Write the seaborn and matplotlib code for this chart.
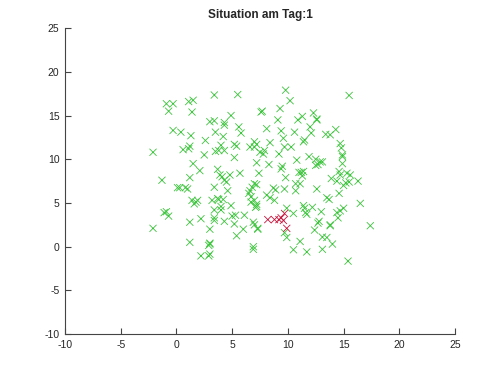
import matplotlib
matplotlib.use("Agg")
import matplotlib.pyplot as plt
import pandas as pd
import seaborn as sns

# healthy (green) individuals
green_x = [
    -0.9, -0.3, -0.7, 1.1, 1.5, 1.4, 3.4, 5.5, 9.8, 10.2, 15.5, 7.6, 7.7, 9.3, 9.1,
    11.3, 10.9, 12.3, 12.6, 12.6, 3.0, 3.4, 4.3, 4.3, 4.9, 5.6, 5.8, -0.3, 0.4, 1.3,
    2.6, 3.5, 4.2, 8.1, 9.4, 9.6, 10.6, 12.0, 12.1, 13.4, 13.8, 14.3, -2.1, 0.6, 1.1,
    1.2, 1.5, 2.1, 1.2, 2.5, 3.5, 4.0, 3.8, 4.3, 5.2, 5.4, 6.6, 7.0, 7.2, 7.0,
    7.5, 7.8, 7.9, 8.4, 9.2, 9.7, 10.3, 11.4, 11.5, 10.8, 11.9, 12.5, 12.9, 12.5, 12.7,
    13.1, 14.7, 14.8, 14.9, 14.9, 14.9, 5.2, 7.2, 8.3, 9.4, 9.5, 9.8, 5.7, 7.4, 3.7,
    3.9, 4.1, 4.3, 4.5, 4.8, -1.3, 0.1, 0.3, 0.8, 1.0, 3.4, 4.6, 7.0, 7.2, 6.8,
    6.6, 6.5, 6.7, 6.7, 7.0, 7.2, 7.2, 7.1, 8.1, 8.4, 8.7, 8.9, 8.8, 9.7, 10.7,
    10.7, 11.1, 11.0, 11.2, 11.4, 11.3, 12.6, 13.9, 14.4, 14.6, 14.7, 14.6, 15.2, 15.3, 15.5,
    15.6, 15.0, 16.3, 16.5, 17.4, 15.4, 13.5, 13.7, 15.0, 14.4, 14.7, 14.5, 13.0, 12.2, 11.4,
    11.5, 11.6, 11.7, 10.5, 9.9, 12.8, 12.7, 13.8, 13.8, 12.4, 13.1, 13.5, 14.0, 11.1, 10.5,
    11.7, 13.1, 9.9, 9.7, 7.3, 7.3, 6.9, 7.0, 6.9, 6.9, 6.0, 6.1, 5.4, 5.2, 5.0,
    5.3, 4.9, 4.0, 4.0, 4.2, 3.7, 3.8, 3.2, 3.4, 3.4, 3.4, 4.3, 3.0, 3.0, 2.9,
    3.0, 2.2, 2.9, 3.0, 1.2, 1.2, 2.2, 1.4, 1.75, 1.9, 1.6, -1.1, -0.9, -0.7, -2.1,
]
green_y = [
    16.35, 16.35, 15.5, 16.6, 16.75, 15.4, 17.35, 17.4, 17.9, 16.7, 17.3, 15.4, 15.5, 15.8, 14.5,
    14.9, 14.5, 15.3, 14.6, 14.5, 14.3, 14.4, 14.2, 13.9, 15.0, 13.7, 13.0, 13.3, 13.1, 12.7,
    12.15, 13.1, 12.6, 13.5, 13.25, 12.4, 13.1, 13.7, 13.0, 12.85, 12.8, 13.4, 10.8, 11.1, 11.2,
    11.5, 9.5, 8.7, 7.9, 10.5, 10.9, 11.6, 11.0, 11.0, 11.7, 11.5, 11.4, 12.0, 11.7, 11.4,
    10.8, 10.6, 11.0, 11.9, 10.6, 11.4, 11.4, 12.0, 12.2, 9.9, 10.3, 10.0, 9.7, 9.3, 9.4,
    9.7, 11.8, 11.3, 10.5, 10.3, 9.5, 10.2, 9.6, 9.4, 8.9, 9.2, 7.9, 8.4, 8.4, 8.85,
    8.2, 8.0, 7.6, 7.4, 8.2, 7.6, 6.75, 6.75, 6.75, 6.6, 6.8, 6.4, 7.2, 7.1, 6.8,
    6.4, 6.1, 5.7, 5.1, 5.3, 4.85, 4.6, 4.5, 5.9, 5.6, 6.7, 6.5, 5.3, 6.6, 6.4,
    7.2, 7.2, 8.5, 8.5, 8.6, 8.1, 6.6, 7.8, 7.5, 8.6, 8.2, 6.1, 7.3, 8.4, 7.4,
    8.2, 7.0, 7.5, 4.95, 2.4, -1.65, 5.6, 5.4, 4.4, 3.9, 4.1, 3.3, 4.0, 4.5, 4.7,
    4.4, 3.9, 3.7, 3.8, 4.4, 2.9, 2.7, 2.5, 2.4, 1.9, 1.1, 1.05, 0.3, 0.6, -0.35,
    -0.6, -0.3, 1.05, 1.6, 2.1, 2.0, 2.8, 2.5, 0.0, -0.3, 2.0, 3.6, 1.25, 2.6, 3.5,
    3.6, 4.7, 4.2, 4.6, 5.4, 5.5, 5.4, 5.3, 4.2, 3.3, 3.0, 2.9, 2.0, 0.4, 0.15,
    0.3, -1.05, -1.05, -0.85, 0.5, 2.8, 3.2, 5.3, 5.1, 5.3, 4.9, 3.9, 4.0, 3.5, 2.1,
]

# infected (red) individuals
red_x = [8.2, 8.8, 9.2, 9.4, 9.6, 9.7, 9.9]
red_y = [3.1, 3.1, 3.1, 3.3, 3.0, 3.8, 2.1]

title = "Situation am Tag:1"
axis_ticks = [-10, -5, 0, 5, 10, 15, 20, 25]


def build_frame() -> pd.DataFrame:
    green = pd.DataFrame({"x": green_x, "y": green_y, "state": "gesund"})
    red = pd.DataFrame({"x": red_x, "y": red_y, "state": "krank"})
    return pd.concat([green, red], ignore_index=True)


def main() -> None:
    sns.set_theme(style="white")
    plt.rcParams["font.family"] = ["Liberation Sans", "DejaVu Sans"]
    plt.rcParams["axes.unicode_minus"] = False

    df = build_frame()

    fig = plt.figure(figsize=(5, 3.75), dpi=100)
    ax = fig.add_axes([0.13, 0.109, 0.78, 0.816])

    sns.scatterplot(
        data=df, x="x", y="y", hue="state",
        palette={"gesund": "#3cc43c", "krank": "#c8143c"},
        marker="x", s=26, linewidth=0.6, legend=False, ax=ax,
    )

    ax.set_xlim(-10, 25)
    ax.set_ylim(-10, 25)
    ax.set_xticks(axis_ticks)
    ax.set_yticks(axis_ticks)
    ax.set_xlabel("")
    ax.set_ylabel("")
    ax.set_title(title, fontsize=8.5, fontweight="bold", pad=7)

    for side in ["top", "right"]:
        ax.spines[side].set_visible(False)
    for side in ["left", "bottom"]:
        ax.spines[side].set_color("#444444")
        ax.spines[side].set_linewidth(0.8)
    ax.tick_params(direction="in", length=4, width=0.8, color="#444444",
                   labelsize=7.5, pad=4, left=True, bottom=True)

    fig.savefig("out.png", dpi=100)


if __name__ == "__main__":
    main()
